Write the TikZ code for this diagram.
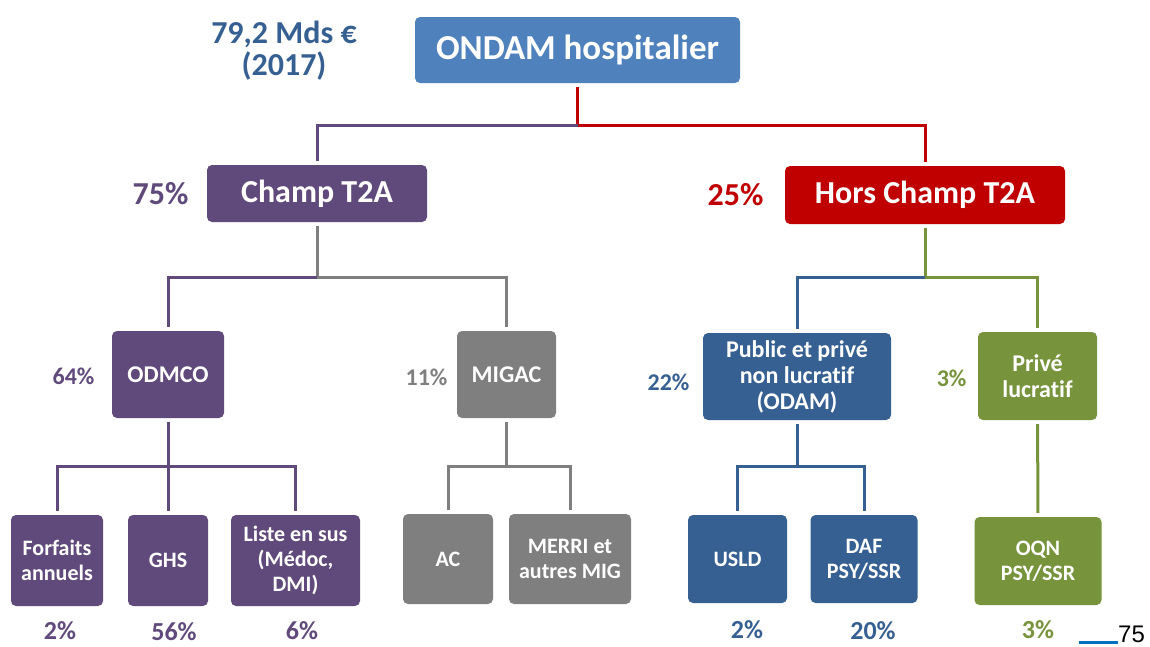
\documentclass[tikz,border=0pt]{standalone}
\usepackage{fontspec}
\setmainfont{Carlito}[Ligatures=NoCommon]
\newfontfamily\pagefont{Liberation Sans}
\usepackage{xcolor}

\definecolor{bleuH}{HTML}{4F81BD}
\definecolor{violetT}{HTML}{604A7B}
\definecolor{rougeH}{HTML}{C00000}
\definecolor{grisM}{HTML}{7F7F7F}
\definecolor{bleuO}{HTML}{366092}
\definecolor{vertP}{HTML}{77933C}
\definecolor{bleuP}{HTML}{0070C0}

\begin{document}
\begin{tikzpicture}[x=1pt,y=-1pt,
  bloc/.style={rounded corners=5pt, text=white, align=center, inner sep=0pt,
    font=\bfseries\fontsize{24}{26}\selectfont},
  petit/.style={bloc, font=\bfseries\fontsize{22}{25}\selectfont},
  grand/.style={font=\bfseries\fontsize{32}{32}\selectfont},
  pct/.style={font=\bfseries\fontsize{24}{24}\selectfont},
  bas/.style={inner sep=1pt, font=\bfseries\fontsize{26}{26}\selectfont},
  lien/.style={line width=3pt}]
\useasboundingbox (0,0) rectangle (1150,646);
\node[grand, text=bleuO, align=center](total) at (284,51){79,2 Mds €\\(2017)};
\node[bloc, fill=bleuH, minimum width=325, minimum height=66, font=\bfseries\fontsize{35}{35}\selectfont](ondam) at (577.5,50){ONDAM hospitalier};
\node[bloc, grand, fill=violetT, minimum width=220, minimum height=57](champ) at (317,193.5){Champ T2A};
\node[bloc, grand, fill=rougeH, minimum width=280, minimum height=58](hors) at (925,195){Hors Champ T2A};
\node[grand, text=violetT, anchor=east](p75) at (192,194){75\%};
\node[grand, text=rougeH, anchor=east](p25) at (767,195){25\%};
% second niveau
\node[bloc, fill=violetT, minimum width=112, minimum height=87](odmco) at (168,374.5){ODMCO};
\node[bloc, fill=grisM, minimum width=99, minimum height=87](migac) at (506.5,374.5){MIGAC};
\node[bloc, fill=bleuO, minimum width=188, minimum height=87](public) at (797,376.5){Public et privé\\non lucratif\\(ODAM)};
\node[bloc, fill=vertP, minimum width=119, minimum height=88](prive) at (1037.5,376){Privé\\lucratif};
\node[pct, text=violetT, anchor=east](p64) at (98,376){64\%};
\node[pct, text=grisM, anchor=east](p11) at (451,377){11\%};
\node[pct, text=bleuO, anchor=east](p22) at (693,382){22\%};
\node[pct, text=vertP, anchor=east](p3a) at (970,378){3\%};
% troisieme niveau
\node[petit, fill=violetT, minimum width=92, minimum height=91](forfaits) at (57,560.5){Forfaits\\annuels};
\node[petit, fill=violetT, minimum width=80, minimum height=91](ghs) at (168,560.5){GHS};
\node[petit, fill=violetT, minimum width=129, minimum height=91](liste) at (295.5,560.5){Liste en sus\\(Médoc,\\DMI)};
\node[petit, fill=grisM, minimum width=90, minimum height=90](ac) at (448,559){AC};
\node[petit, fill=grisM, minimum width=122, minimum height=90](merri) at (570,559){MERRI et\\autres MIG};
\node[petit, fill=bleuO, minimum width=99, minimum height=88](usld) at (737.5,559){USLD};
\node[petit, fill=bleuO, minimum width=107, minimum height=88](daf) at (864,559){DAF\\PSY/SSR};
\node[petit, fill=vertP, minimum width=127, minimum height=88](oqn) at (1038,561){OQN\\PSY/SSR};
\node[bas, text=violetT](p2a) at (60,631){2\%};
\node[bas, text=violetT](p56) at (174,632){56\%};
\node[bas, text=violetT](p6) at (302,631){6\%};
\node[bas, text=bleuO](p2b) at (747,630){2\%};
\node[bas, text=bleuO](p20) at (873,631){20\%};
\node[bas, text=vertP](p3b) at (1038,630){3\%};
% numero de page
\node[font=\pagefont\fontsize{24}{24}\selectfont, anchor=base west, inner sep=0pt](page) at (1118,642){75};
\coordinate (filet) at (1079,642);
\draw[line width=3pt, bleuP] (filet) -- (filet -| page.west);
% liens
\coordinate (j0) at (577.5,125);
\coordinate (j1) at (317,277);
\coordinate (j2) at (925,277);
\coordinate (j3) at (168,466);
\coordinate (j4) at (506.5,466);
\coordinate (j5) at (797,466);
\draw[lien, rougeH, shorten <=4pt] (ondam) -- (j0);
\draw[lien, violetT, shorten >=4pt] (j0) -| (champ);
\draw[lien, rougeH, shorten >=4pt] (j0) -| (hors);
\draw[lien, grisM, shorten <=4pt] (champ) -- (j1);
\draw[lien, violetT, shorten >=4pt] (j1) -| (odmco);
\draw[lien, grisM, shorten >=4pt] (j1) -| (migac);
\draw[lien, vertP, shorten <=4pt] (hors) -- (j2);
\draw[lien, bleuO, shorten >=4pt] (j2) -| (public);
\draw[lien, vertP, shorten >=4pt] (j2) -| (prive);
\draw[lien, violetT, shorten <=4pt] (odmco) -- (j3);
\draw[lien, violetT, shorten >=4pt] (j3) -| (forfaits);
\draw[lien, violetT, shorten >=4pt] (j3) -- (ghs);
\draw[lien, violetT, shorten >=4pt] (j3) -| (liste);
\draw[lien, grisM, shorten <=4pt] (migac) -- (j4);
\draw[lien, grisM, shorten >=4pt] (j4) -| (ac);
\draw[lien, grisM, shorten >=4pt] (j4) -| (merri);
\draw[lien, bleuO, shorten <=4pt] (public) -- (j5);
\draw[lien, bleuO, shorten >=4pt] (j5) -| (usld);
\draw[lien, bleuO, shorten >=4pt] (j5) -| (daf);
\draw[lien, vertP, shorten <=4pt, shorten >=4pt] (prive) -- (oqn);
\end{tikzpicture}
\end{document}
